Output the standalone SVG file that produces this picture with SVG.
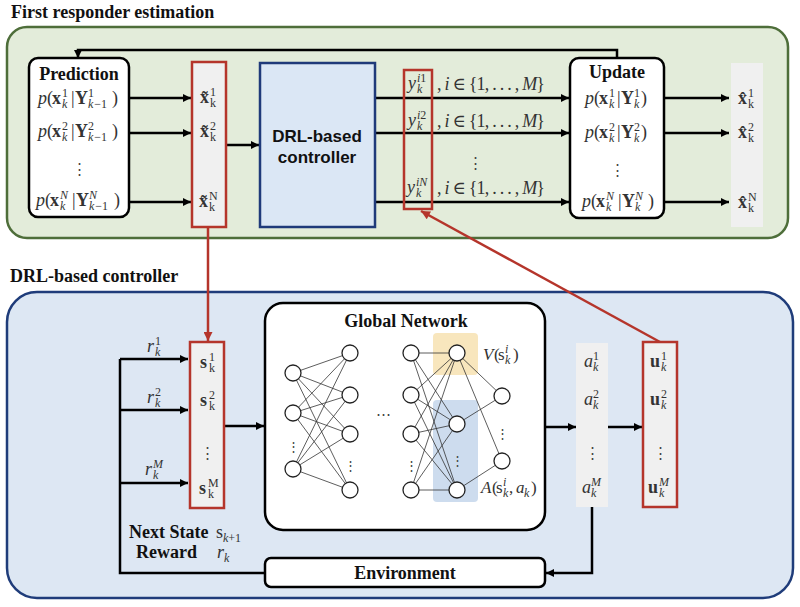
<svg xmlns="http://www.w3.org/2000/svg" width="800" height="607" viewBox="0 0 800 607">
<defs>
<marker id="ah" viewBox="0 0 10 10" refX="10" refY="5" markerWidth="9" markerHeight="8" markerUnits="userSpaceOnUse" orient="auto"><path d="M0,0 L10,5 L0,10 z" fill="#000"/></marker>
<marker id="ahr" viewBox="0 0 10 10" refX="10" refY="5" markerWidth="10" markerHeight="9" markerUnits="userSpaceOnUse" orient="auto"><path d="M0,0 L10,5 L0,10 z" fill="#b5352b"/></marker>
<style>
.ttl{font-family:"Liberation Serif","Times New Roman",serif;font-weight:bold;font-size:18px;fill:#111}
.mid{text-anchor:middle}
.sans{font-family:"Liberation Sans",Arial,sans-serif;font-weight:bold;font-size:17px;fill:#111;text-anchor:middle}
.m{font-family:"Liberation Serif","DejaVu Serif",serif;font-size:18px;fill:#333}
.i{font-style:italic}
.b{font-weight:bold}
.sc{font-size:12px}
.ln{stroke:#000;stroke-width:2.5;fill:none}
.red{stroke:#b5352b;stroke-width:2.5;fill:none}
.nn{fill:#fff;stroke:#222;stroke-width:1.3}
.ed{stroke:#333;stroke-width:0.8}
.dots{font-family:"DejaVu Serif",serif;font-size:15px;fill:#444;text-anchor:middle}
.col{fill:#f0f0f0}
.rbox{fill:#f0f0f0;stroke:#b5352b;stroke-width:2.5}
.wbox{fill:#fff;stroke:#000;stroke-width:2.5}
</style>
</defs>
<rect width="800" height="607" fill="#fff"/>

<!-- panels -->
<g id="panel-top">
<text class="ttl" x="11" y="18">First responder estimation</text>
<rect x="7" y="27" width="781" height="211" rx="20" fill="#e3ecda" stroke="#4e6e3a" stroke-width="2.5"/>
</g>
<g id="panel-bottom">
<text class="ttl" x="10" y="282">DRL-based controller</text>
<rect x="7" y="292" width="786" height="306" rx="30" fill="#dde7f3" stroke="#1f3c7a" stroke-width="2.5"/>
</g>

<!-- connectors -->
<g id="connectors">
<path class="ln" d="M617,58 V50 H78 V58" marker-end="url(#ah)"/>
<path class="ln" d="M129,98 H191" marker-end="url(#ah)"/>
<path class="ln" d="M129,133 H191" marker-end="url(#ah)"/>
<path class="ln" d="M129,202 H191" marker-end="url(#ah)"/>
<path class="ln" d="M226,145 H259" marker-end="url(#ah)"/>
<path class="ln" d="M375,98 H569" marker-end="url(#ah)"/>
<path class="ln" d="M375,133 H569" marker-end="url(#ah)"/>
<path class="ln" d="M375,202 H569" marker-end="url(#ah)"/>
<path class="ln" d="M664,98 H729" marker-end="url(#ah)"/>
<path class="ln" d="M664,133 H729" marker-end="url(#ah)"/>
<path class="ln" d="M664,202 H729" marker-end="url(#ah)"/>
<path class="red" d="M208,227 V341" marker-end="url(#ahr)"/>
<path class="red" d="M660,342 L421,211" marker-end="url(#ahr)"/>
<path class="ln" d="M224,426 H264" marker-end="url(#ah)"/>
<path class="ln" d="M265,573 H120 V359"/>
<path class="ln" d="M120,359 H188" marker-end="url(#ah)"/>
<path class="ln" d="M120,410 H188" marker-end="url(#ah)"/>
<path class="ln" d="M120,483 H188" marker-end="url(#ah)"/>
<path class="ln" d="M545,427 H576" marker-end="url(#ah)"/>
<path class="ln" d="M608,427 H642" marker-end="url(#ah)"/>
<path class="ln" d="M592,507 V573 H546" marker-end="url(#ah)"/>
</g>

<!-- Prediction -->
<g id="prediction">
<rect class="wbox" x="29" y="58" width="100" height="159" rx="9"/>
<text class="ttl mid" x="79" y="80">Prediction</text>
<text class="m"><tspan class="i" x="38" y="104">p</tspan><tspan x="47">(</tspan><tspan class="b" x="52">x</tspan><tspan class="sc" x="62" y="97">1</tspan><tspan class="sc i" x="62" y="108">k</tspan><tspan x="71" y="104">|</tspan><tspan class="b" x="75">Y</tspan><tspan class="sc" x="88" y="97">1</tspan><tspan class="sc i" x="88" y="108">k</tspan><tspan class="sc" dx="1">−1</tspan><tspan x="112" y="104">)</tspan></text>
<text class="m"><tspan class="i" x="38" y="137">p</tspan><tspan x="47">(</tspan><tspan class="b" x="52">x</tspan><tspan class="sc" x="62" y="130">2</tspan><tspan class="sc i" x="62" y="141">k</tspan><tspan x="71" y="137">|</tspan><tspan class="b" x="75">Y</tspan><tspan class="sc" x="88" y="130">2</tspan><tspan class="sc i" x="88" y="141">k</tspan><tspan class="sc" dx="1">−1</tspan><tspan x="112" y="137">)</tspan></text>
<text class="dots" x="79" y="174">⋮</text>
<text class="m"><tspan class="i" x="36" y="206">p</tspan><tspan x="45">(</tspan><tspan class="b" x="50">x</tspan><tspan class="sc i" x="60" y="199">N</tspan><tspan class="sc i" x="60" y="210">k</tspan><tspan x="72" y="206">|</tspan><tspan class="b" x="76">Y</tspan><tspan class="sc i" x="89" y="199">N</tspan><tspan class="sc i" x="89" y="210">k</tspan><tspan class="sc" dx="1">−1</tspan><tspan x="114" y="206">)</tspan></text>
</g>

<!-- predicted states -->
<g id="pred-states">
<rect class="rbox" x="192" y="62" width="34" height="165"/>
<text class="m"><tspan class="b" x="200" y="103">x̃</tspan><tspan class="sc" x="210" y="96">1</tspan><tspan class="sc" x="210" y="107">k</tspan></text>
<text class="m"><tspan class="b" x="200" y="137">x̃</tspan><tspan class="sc" x="210" y="130">2</tspan><tspan class="sc" x="210" y="141">k</tspan></text>
<text class="m"><tspan class="b" x="199" y="207">x̃</tspan><tspan class="sc" x="209" y="200">N</tspan><tspan class="sc" x="209" y="211">k</tspan></text>
</g>

<!-- DRL controller box -->
<g id="drl-box">
<rect x="260" y="63" width="115" height="164" fill="#dbe7f5" stroke="#1f3a7a" stroke-width="2.5"/>
<text class="sans" x="317" y="142">DRL-based</text>
<text class="sans" x="317" y="163">controller</text>
</g>

<!-- measurements -->
<g id="measurements">
<rect x="404" y="70" width="28" height="139" fill="none" stroke="#b5352b" stroke-width="2.5"/>
<text class="m"><tspan class="i" x="408" y="89">y</tspan><tspan class="sc i" x="417" y="82">i</tspan><tspan class="sc">1</tspan><tspan class="sc i" x="417" y="93">k</tspan></text>
<text class="m"><tspan class="i" x="408" y="126">y</tspan><tspan class="sc i" x="417" y="119">i</tspan><tspan class="sc">2</tspan><tspan class="sc i" x="417" y="130">k</tspan></text>
<text class="m"><tspan class="i" x="407" y="193">y</tspan><tspan class="sc i" x="416" y="186">iN</tspan><tspan class="sc i" x="416" y="197">k</tspan></text>
<text class="m" x="437" y="90" textLength="108" lengthAdjust="spacing">, <tspan class="i">i</tspan> ∈ {1, . . . , <tspan class="i">M</tspan>}</text>
<text class="m" x="437" y="127" textLength="108" lengthAdjust="spacing">, <tspan class="i">i</tspan> ∈ {1, . . . , <tspan class="i">M</tspan>}</text>
<text class="dots" x="475" y="168">⋮</text>
<text class="m" x="437" y="194" textLength="108" lengthAdjust="spacing">, <tspan class="i">i</tspan> ∈ {1, . . . , <tspan class="i">M</tspan>}</text>
</g>

<!-- Update -->
<g id="update">
<rect class="wbox" x="570" y="58" width="94" height="160" rx="9"/>
<text class="ttl mid" x="617" y="78">Update</text>
<text class="m"><tspan class="i" x="585" y="104">p</tspan><tspan x="594">(</tspan><tspan class="b" x="599">x</tspan><tspan class="sc" x="609" y="97">1</tspan><tspan class="sc i" x="609" y="108">k</tspan><tspan x="617" y="104">|</tspan><tspan class="b" x="621">Y</tspan><tspan class="sc" x="634" y="97">1</tspan><tspan class="sc i" x="634" y="108">k</tspan><tspan x="641" y="104">)</tspan></text>
<text class="m"><tspan class="i" x="585" y="138">p</tspan><tspan x="594">(</tspan><tspan class="b" x="599">x</tspan><tspan class="sc" x="609" y="131">2</tspan><tspan class="sc i" x="609" y="142">k</tspan><tspan x="617" y="138">|</tspan><tspan class="b" x="621">Y</tspan><tspan class="sc" x="634" y="131">2</tspan><tspan class="sc i" x="634" y="142">k</tspan><tspan x="641" y="138">)</tspan></text>
<text class="dots" x="617" y="175">⋮</text>
<text class="m"><tspan class="i" x="582" y="207">p</tspan><tspan x="591">(</tspan><tspan class="b" x="596">x</tspan><tspan class="sc i" x="606" y="200">N</tspan><tspan class="sc i" x="606" y="211">k</tspan><tspan x="618" y="207">|</tspan><tspan class="b" x="622">Y</tspan><tspan class="sc i" x="635" y="200">N</tspan><tspan class="sc i" x="635" y="211">k</tspan><tspan x="648" y="207">)</tspan></text>
</g>

<!-- estimates -->
<g id="estimates">
<rect class="col" x="731" y="63" width="32" height="164"/>
<text class="m"><tspan class="b" x="738" y="104">x̂</tspan><tspan class="sc" x="748" y="97">1</tspan><tspan class="sc" x="748" y="108">k</tspan></text>
<text class="m"><tspan class="b" x="738" y="138">x̂</tspan><tspan class="sc" x="748" y="131">2</tspan><tspan class="sc" x="748" y="142">k</tspan></text>
<text class="m"><tspan class="b" x="738" y="208">x̂</tspan><tspan class="sc" x="748" y="201">N</tspan><tspan class="sc" x="748" y="212">k</tspan></text>
</g>

<!-- rewards -->
<g id="rewards">
<text class="m"><tspan class="i" x="147" y="352">r</tspan><tspan class="sc" x="155" y="345">1</tspan><tspan class="sc i" x="155" y="356">k</tspan></text>
<text class="m"><tspan class="i" x="147" y="403">r</tspan><tspan class="sc" x="155" y="396">2</tspan><tspan class="sc i" x="155" y="407">k</tspan></text>
<text class="m"><tspan class="i" x="145" y="475">r</tspan><tspan class="sc i" x="153" y="468">M</tspan><tspan class="sc i" x="153" y="479">k</tspan></text>
</g>

<!-- states -->
<g id="states">
<rect class="rbox" x="190" y="342" width="34" height="166"/>
<text class="m"><tspan class="b" x="200" y="368">s</tspan><tspan class="sc" x="209" y="361">1</tspan><tspan class="sc" x="209" y="372">k</tspan></text>
<text class="m"><tspan class="b" x="200" y="406">s</tspan><tspan class="sc" x="209" y="399">2</tspan><tspan class="sc" x="209" y="410">k</tspan></text>
<text class="dots" x="207" y="458">⋮</text>
<text class="m"><tspan class="b" x="199" y="494">s</tspan><tspan class="sc" x="208" y="487">M</tspan><tspan class="sc" x="208" y="498">k</tspan></text>
</g>

<!-- next state / reward labels -->
<g id="feedback-labels">
<text class="ttl" x="129" y="538">Next State</text>
<text class="m"><tspan x="216" y="538">s</tspan><tspan class="sc i" x="223" y="542">k</tspan><tspan class="sc">+1</tspan></text>
<text class="ttl" x="136" y="558">Reward</text>
<text class="m"><tspan class="i" x="217" y="558">r</tspan><tspan class="sc i" x="224" y="562">k</tspan></text>
</g>

<!-- Global network -->
<g id="global-network">
<rect class="wbox" x="265" y="303" width="280" height="227" rx="18"/>
<text class="ttl mid" x="406" y="327">Global Network</text>
<rect x="433" y="333" width="45" height="42" rx="4" fill="#f8e6bd"/>
<rect x="433" y="400" width="45" height="102" rx="4" fill="#cddcee"/>
<g class="ed">
<line x1="293" y1="373" x2="350" y2="353"/><line x1="293" y1="373" x2="350" y2="395"/><line x1="293" y1="373" x2="350" y2="434"/><line x1="293" y1="373" x2="350" y2="490"/>
<line x1="293" y1="413" x2="350" y2="353"/><line x1="293" y1="413" x2="350" y2="395"/><line x1="293" y1="413" x2="350" y2="434"/><line x1="293" y1="413" x2="350" y2="490"/>
<line x1="293" y1="469" x2="350" y2="353"/><line x1="293" y1="469" x2="350" y2="395"/><line x1="293" y1="469" x2="350" y2="434"/><line x1="293" y1="469" x2="350" y2="490"/>
<line x1="411" y1="353" x2="457" y2="353"/><line x1="411" y1="353" x2="457" y2="424"/><line x1="411" y1="353" x2="457" y2="490"/>
<line x1="411" y1="395" x2="457" y2="353"/><line x1="411" y1="395" x2="457" y2="424"/><line x1="411" y1="395" x2="457" y2="490"/>
<line x1="411" y1="434" x2="457" y2="353"/><line x1="411" y1="434" x2="457" y2="424"/><line x1="411" y1="434" x2="457" y2="490"/>
<line x1="411" y1="490" x2="457" y2="353"/><line x1="411" y1="490" x2="457" y2="424"/><line x1="411" y1="490" x2="457" y2="490"/>
<line x1="457" y1="353" x2="502" y2="396"/><line x1="457" y1="353" x2="502" y2="461"/>
<line x1="457" y1="424" x2="502" y2="396"/><line x1="457" y1="490" x2="502" y2="461"/>
</g>
<g class="nn">
<circle cx="293" cy="373" r="8"/><circle cx="293" cy="413" r="8"/><circle cx="293" cy="469" r="8"/>
<circle cx="350" cy="353" r="8"/><circle cx="350" cy="395" r="8"/><circle cx="350" cy="434" r="8"/><circle cx="350" cy="490" r="8"/>
<circle cx="411" cy="353" r="8"/><circle cx="411" cy="395" r="8"/><circle cx="411" cy="434" r="8"/><circle cx="411" cy="490" r="8"/>
<circle cx="457" cy="353" r="8"/><circle cx="457" cy="424" r="8"/><circle cx="457" cy="490" r="8"/>
<circle cx="502" cy="396" r="8"/><circle cx="502" cy="461" r="8"/>
</g>
<text class="dots" x="293" y="451" style="font-size:13px">⋮</text>
<text class="dots" x="350" y="470" style="font-size:13px">⋮</text>
<text class="dots" x="411" y="470" style="font-size:13px">⋮</text>
<text class="dots" x="457" y="465" style="font-size:13px">⋮</text>
<text class="dots" x="502" y="438" style="font-size:13px">⋮</text>
<text class="dots" x="383" y="419" style="font-size:15px">⋯</text>
<text class="m" style="font-size:17px"><tspan class="i" x="483" y="360">V</tspan><tspan x="494">(</tspan><tspan x="498">s</tspan><tspan class="sc i" x="505" y="353">i</tspan><tspan class="sc i" x="505" y="364">k</tspan><tspan x="513" y="360">)</tspan></text>
<text class="m" style="font-size:17px"><tspan class="i" x="481" y="493">A</tspan><tspan x="492">(</tspan><tspan x="496">s</tspan><tspan class="sc i" x="503" y="486">i</tspan><tspan class="sc i" x="503" y="497">k</tspan><tspan x="509" y="493">,</tspan><tspan class="i" x="516">a</tspan><tspan class="sc i" x="524" y="497">k</tspan><tspan x="531" y="493">)</tspan></text>
</g>

<!-- actions -->
<g id="actions">
<rect class="col" x="576" y="343" width="32" height="164"/>
<text class="m"><tspan class="i" x="584" y="367">a</tspan><tspan class="sc" x="593" y="360">1</tspan><tspan class="sc i" x="593" y="371">k</tspan></text>
<text class="m"><tspan class="i" x="584" y="405">a</tspan><tspan class="sc" x="593" y="398">2</tspan><tspan class="sc i" x="593" y="409">k</tspan></text>
<text class="dots" x="592" y="458">⋮</text>
<text class="m"><tspan class="i" x="582" y="493">a</tspan><tspan class="sc i" x="591" y="486">M</tspan><tspan class="sc i" x="591" y="497">k</tspan></text>
</g>

<!-- controls -->
<g id="controls">
<rect class="rbox" x="643" y="342" width="34" height="165"/>
<text class="m"><tspan class="b" x="650" y="367">u</tspan><tspan class="sc" x="661" y="360">1</tspan><tspan class="sc i" x="661" y="371">k</tspan></text>
<text class="m"><tspan class="b" x="650" y="405">u</tspan><tspan class="sc" x="661" y="398">2</tspan><tspan class="sc i" x="661" y="409">k</tspan></text>
<text class="dots" x="660" y="458">⋮</text>
<text class="m"><tspan class="b" x="648" y="493">u</tspan><tspan class="sc i" x="659" y="486">M</tspan><tspan class="sc i" x="659" y="497">k</tspan></text>
</g>

<!-- Environment -->
<g id="environment">
<rect class="wbox" x="265" y="558" width="280" height="29" rx="6"/>
<text class="ttl mid" x="405" y="579">Environment</text>
</g>
</svg>
